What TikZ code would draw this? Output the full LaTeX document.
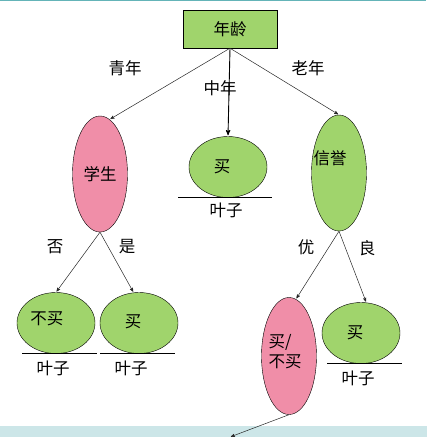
\documentclass[tikz,border=0pt]{standalone}
\usepackage{fontspec}
\usepackage{tikz}
\usetikzlibrary{arrows,shapes.geometric,positioning}
\newfontfamily\cjk{Noto Sans CJK SC}
\definecolor{nodegreen}{HTML}{A0D46C}
\definecolor{nodepink}{HTML}{F08EA8}
\definecolor{bandcyan}{HTML}{CCE6E8}
\definecolor{topteal}{HTML}{64B4B8}

\begin{document}
\begin{tikzpicture}[x=1pt,y=-1pt,->,>=stealth',shorten >=1pt,
                    font=\cjk\fontsize{16.5}{20}\selectfont,
                    root node/.style={draw,fill=nodegreen,minimum width=94pt,minimum height=38pt,inner sep=0pt},
                    test node/.style={ellipse,draw,fill=nodepink,minimum width=55pt,minimum height=116pt,inner sep=0pt},
                    leaf node/.style={ellipse,draw,fill=nodegreen,minimum width=78pt,minimum height=61pt,inner sep=0pt}]

  \useasboundingbox (0,0) rectangle (427,437);
  \fill[bandcyan] (0,426) rectangle (427,437);
  \draw[-,topteal,line width=1.5pt] (0,0) -- (427,0);

  \node[root node] (1) at (230,29) {年龄};
  \node[test node] (2) at (100,174) {学生};
  \node[leaf node,label={[xshift=-6pt]center:买}] (3) at (228,167) {};
  \node[test node,fill=nodegreen,label={[xshift=-9pt,yshift=15pt]center:信誉}] (4) at (339,173) {};
  \node[leaf node,label={[xshift=-9pt,yshift=4pt]center:不买}] (5) at (56,323) {};
  \node[leaf node,label={[xshift=-6pt,yshift=1pt]center:买}] (6) at (139,323) {};
  \node[test node,minimum height=117pt,label={[xshift=-4pt,yshift=4pt,align=left]center:买/\\不买}] (7) at (289,356) {};
  \node[leaf node,label={[xshift=-6pt]center:买}] (8) at (361,333) {};
  \coordinate (out) at (230,437);

  % branch labels
  \node (young) at (125,68) {青年};
  \node (middle) at (220,88) {中年};
  \node (old) at (308,68) {老年};
  \node (no) at (55,247) {否};
  \node (yes) at (127,247) {是};
  \node (good) at (306,247) {优};
  \node (fair) at (367,248) {良};

  % leaves
  \draw[-,line width=0.8pt] ([xshift=-50pt]3.south) -- ([xshift=45pt]3.south);
  \draw[-,line width=0.8pt] ([xshift=-34pt]5.south) -- ([xshift=42pt]5.south);
  \draw[-,line width=0.8pt] ([xshift=-39pt]6.south) -- ([xshift=37pt]6.south);
  \draw[-,line width=0.8pt] ([xshift=-34pt]8.south) -- ([xshift=42pt]8.south);
  \node (3l) at (226,210) {叶子};
  \node (5l) at (53,368) {叶子};
  \node (6l) at (131,368) {叶子};
  \node (8l) at (358,378) {叶子};

  \path[black!85,line width=0.5pt]
    (1.south) edge (2.80)
    (1.south) edge [black,line width=0.9pt] (3.north)
    (1.south) edge (4.north)
    (2.south) edge (5.north)
    (2.south) edge (6.100)
    (4.south) edge (7.83)
    (4.south) edge (8.80)
    (7.south) edge (out)
;
\end{tikzpicture}
\end{document}
